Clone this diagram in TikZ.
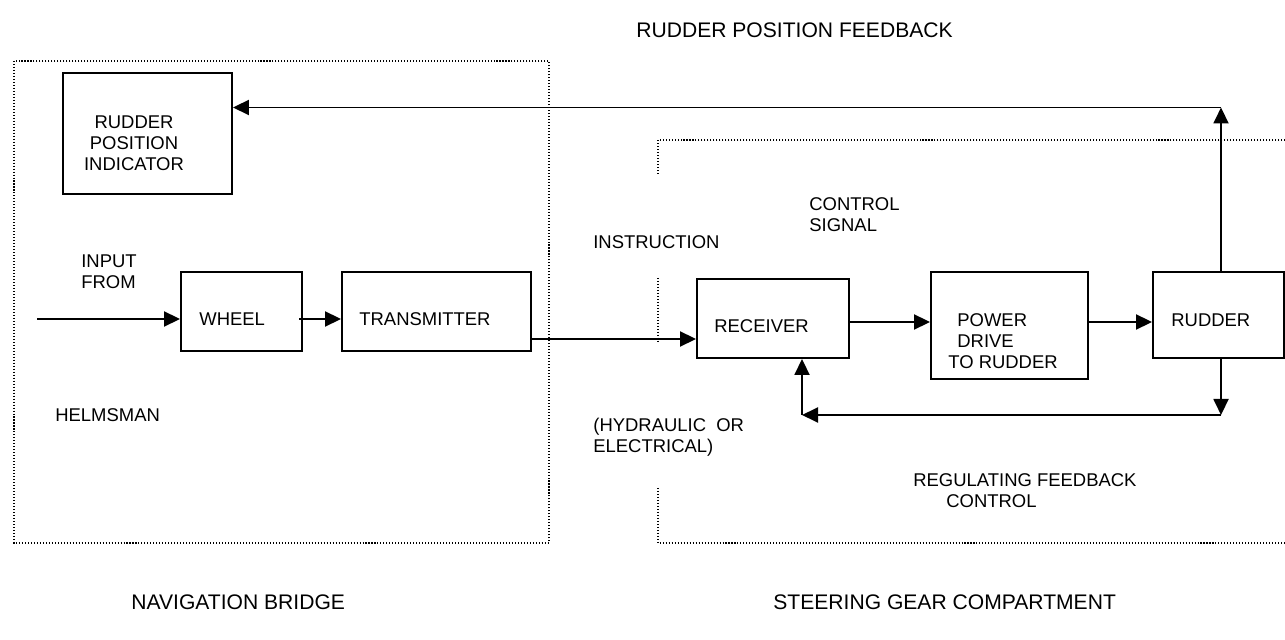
\documentclass[tikz,border=0pt]{standalone}
\usepackage{fontspec}
\setmainfont{Liberation Sans}
\usetikzlibrary{arrows.meta}
\begin{document}
\begin{tikzpicture}[
  font=\fontsize{10.5pt}{11.9pt}\selectfont,
  blk/.style={draw,line width=1.1pt,inner sep=0pt},
  lbl/.style={inner sep=0pt,anchor=west,align=left},
  big/.style={lbl,font=\fontsize{12pt}{14pt}\selectfont},
  zone/.style={line width=0.6pt,dash pattern=on 0.6pt off 1.1pt},
  link/.style={line width=1.1pt},
  arr/.style={link,-{Triangle[length=0.32cm,width=0.3cm]}}]
\useasboundingbox (0,0) rectangle (25.7,-12.8);

% areas
\draw[zone] (0.28,-1.22) rectangle (10.98,-10.86);
\draw[zone] (25.7,-2.8) -- (13.16,-2.8) -- (13.16,-3.52);
\draw[zone] (13.16,-5.56) -- (13.16,-6.86);
\draw[zone] (13.16,-9.76) -- (13.16,-10.86) -- (25.7,-10.86);

% blocks
\node[blk,minimum width=3.38cm,minimum height=2.42cm](indicator) at (2.95,-2.67) {};
\node[blk,minimum width=2.42cm,minimum height=1.58cm](wheel) at (4.83,-6.23) {};
\node[blk,minimum width=3.78cm,minimum height=1.58cm](transmitter) at (8.73,-6.23) {};
\node[blk,minimum width=3.04cm,minimum height=1.58cm](receiver) at (15.46,-6.37) {};
\node[blk,minimum width=3.14cm,minimum height=2.14cm](power) at (20.19,-6.51) {};
\node[blk,minimum width=2.62cm,minimum height=1.72cm](rudder) at (24.37,-6.30) {};

\node[align=center,inner sep=0pt](indicatortxt) at (2.68,-2.86) {RUDDER\\POSITION\\INDICATOR};
\node[lbl](wheeltxt) at (3.98,-6.38) {WHEEL};
\node[lbl](transmittertxt) at (7.18,-6.38) {TRANSMITTER};
\node[lbl](receivertxt) at (14.28,-6.52) {RECEIVER};
\node[lbl](powertxt) at (18.96,-6.82) {\hspace*{0.18cm}POWER\\\hspace*{0.18cm}DRIVE\\TO RUDDER};
\node[lbl](ruddertxt) at (23.42,-6.40) {RUDDER};

% texts
\node[big](title) at (12.72,-0.60) {RUDDER POSITION FEEDBACK};
\node[lbl](input) at (1.62,-5.43) {INPUT\\FROM};
\node[lbl](helmsman) at (1.10,-8.30) {HELMSMAN};
\node[lbl](instruction) at (11.86,-4.84) {INSTRUCTION};
\node[lbl](medium) at (11.86,-8.75) {(HYDRAULIC\ \ OR\\ELECTRICAL)};
\node[lbl](signal) at (16.18,-4.30) {CONTROL\\SIGNAL};
\node[lbl](regulating) at (18.26,-9.82) {REGULATING FEEDBACK\\\hspace*{0.66cm}CONTROL};
\node[big](bridge) at (2.62,-12.04) {NAVIGATION BRIDGE};
\node[big](compartment) at (15.46,-12.04) {STEERING GEAR COMPARTMENT};

\coordinate (start) at (0.74,-6.38);
\coordinate (fbtop) at (24.42,-2.15);
\coordinate (fbbot) at (24.42,-8.30);
\coordinate (fbleft) at (16.04,-8.30);

% signal path
\draw[arr] (start) -- (start -| wheel.west);
\draw[arr] (5.98,-6.38) -- (5.98,-6.38 -| transmitter.west);
\draw[arr] (transmitter.east |- 0,-6.78) -- (receiver.west |- 0,-6.78);
\draw[arr] (receiver.east |- 0,-6.44) -- (power.west |- 0,-6.44);
\draw[arr] (power.east |- 0,-6.44) -- (rudder.west |- 0,-6.44);

% feedback
\draw[arr] (fbtop |- rudder.north) -- (fbtop);
\draw[arr] (fbtop) -- (fbtop -| indicator.east);
\draw[arr] (fbbot |- rudder.south) -- (fbbot);
\draw[arr] (fbbot) -- (fbleft);
\draw[arr] (fbleft) -- (fbleft |- receiver.south);
\end{tikzpicture}
\end{document}
